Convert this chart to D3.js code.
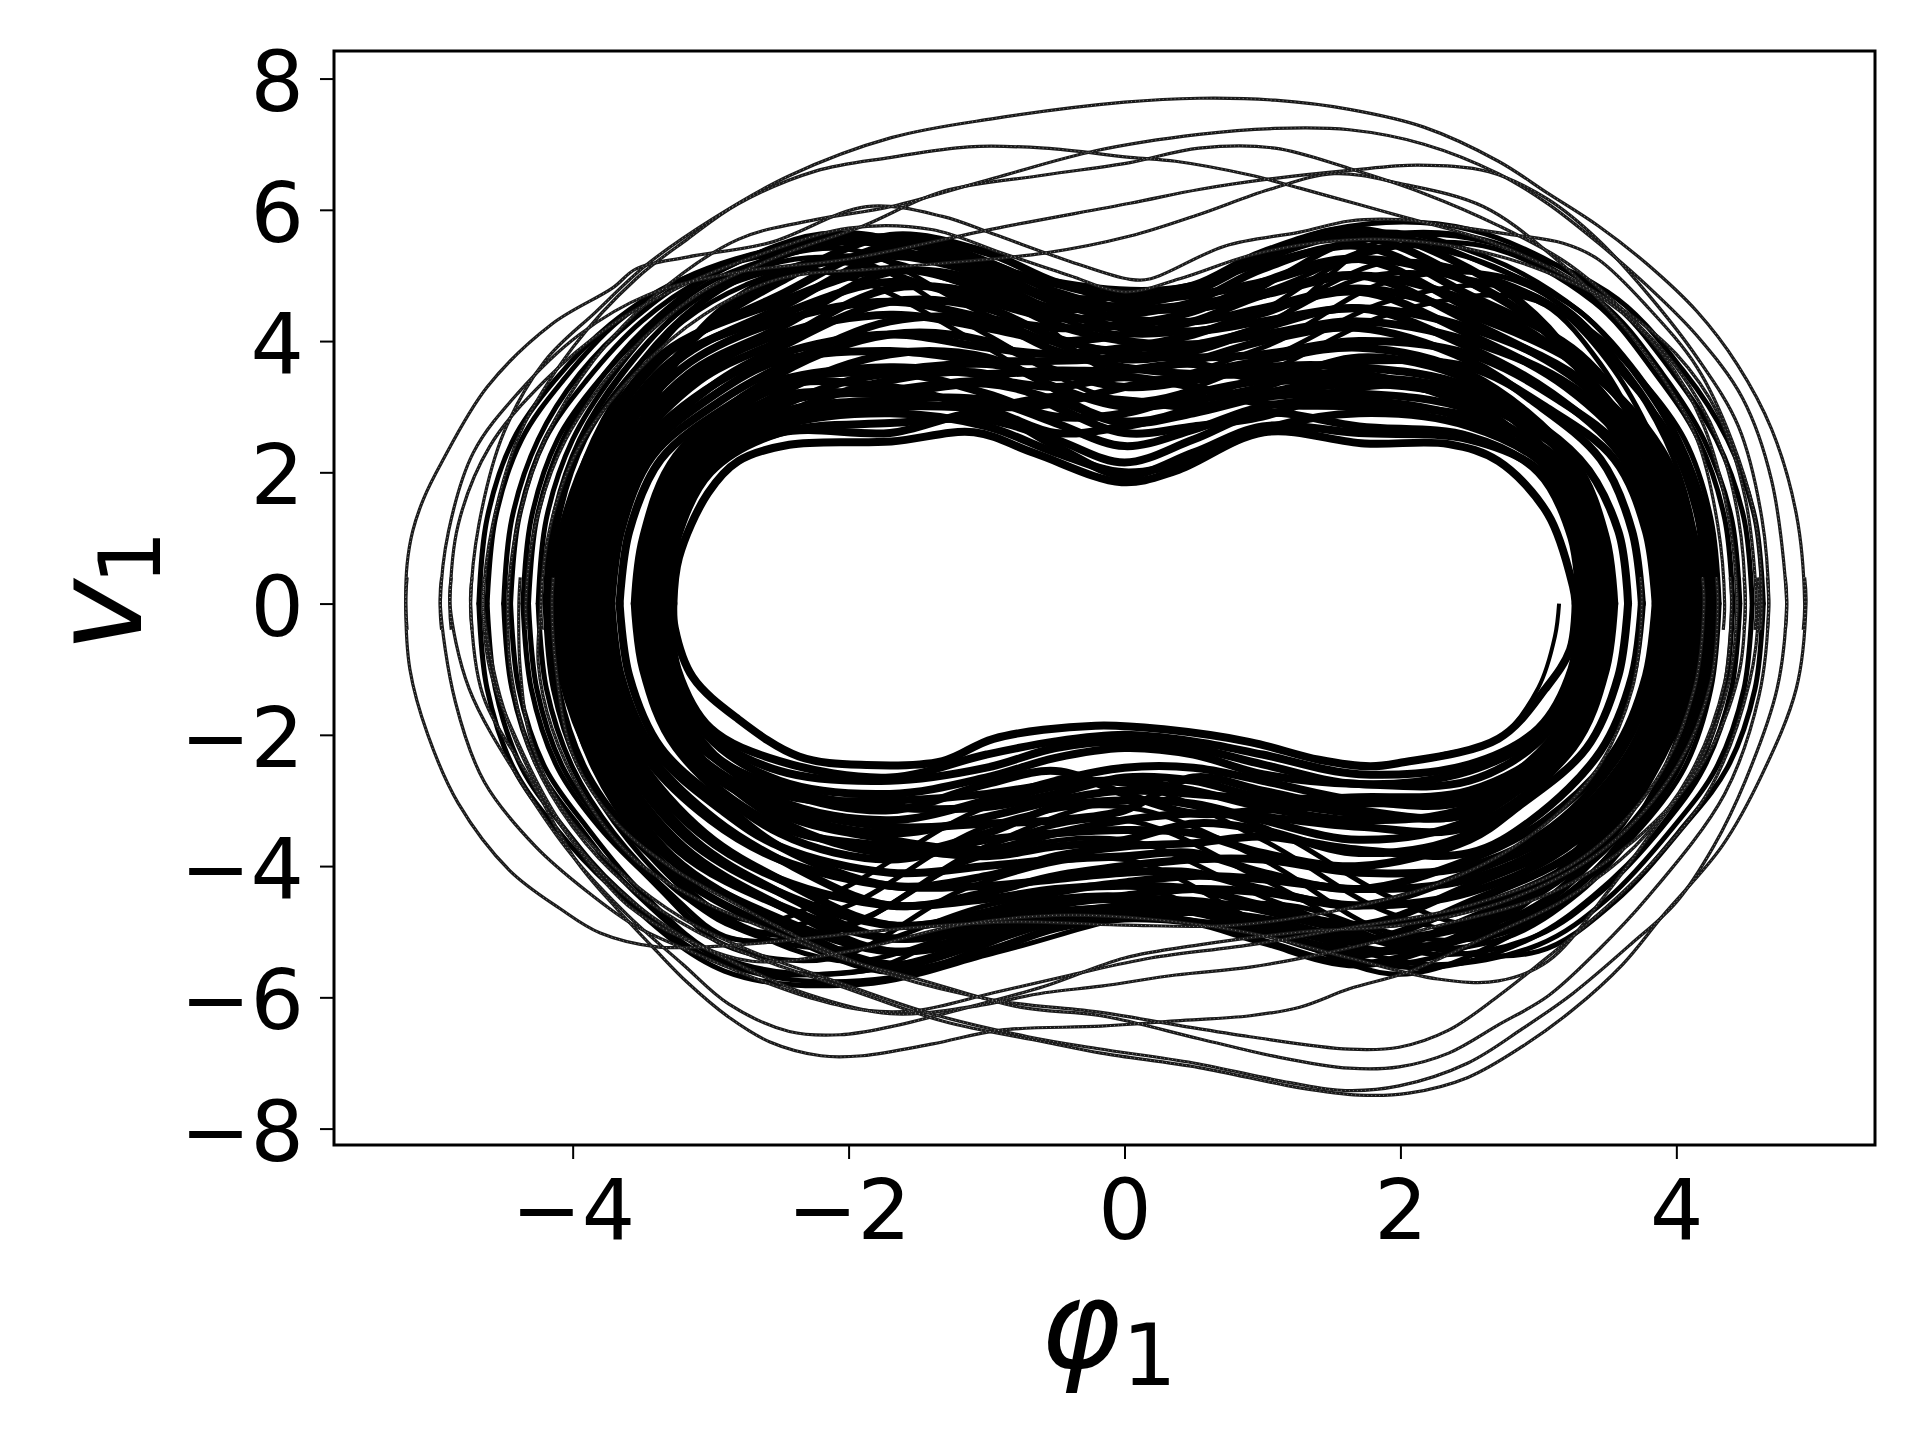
<!DOCTYPE html>
<html>
<head>
<meta charset="utf-8">
<script src="https://cdn.jsdelivr.net/npm/d3@7"></script>
<style>
  html, body { margin: 0; background: #fff; }
  text { font-family: "DejaVu Sans", sans-serif; fill: #000; }
</style>
</head>
<body>
<div id="chart"></div>
<script>
// phase portrait: upper arcs run left to right, lower arcs right to left
var xTicks = [-4, -2, 0, 2, 4];
var yTicks = [-8, -6, -4, -2, 0, 2, 4, 6, 8];

var startArc = [[3.15,0],[3.12,-.5],[3,-1.28],[2.71,-2.06],[2.3,-2.3],[1.78,-2.48],[1.41,-2.38],[.91,-2.11],[.3,-1.92],[-.17,-1.85],[-.95,-2.06],[-1.32,-2.4],[-1.87,-2.46],[-2.36,-2.33],[-2.8,-1.76],[-3.13,-1.12],[-3.26,-.37],[-3.27,0]];

var outerUpper = [
  [[-4.73,-.4],[-4.74,0],[-4.68,1.2],[-4.5,2.6],[-4.2,3.7],[-3.83,4.45],[-3.46,5.17],[-2.98,5.87],[-2.43,6.52],[-1.69,7.1],[-.95,7.39],[0,7.64],[.54,7.7],[1.09,7.67],[1.63,7.53],[2.17,7.26],[2.71,6.74],[3.07,6.25],[3.43,5.76],[3.79,5.17],[4.15,4.45],[4.44,3.65],[4.69,2.66],[4.87,1.36],[4.93,0],[4.92,-.4]],
  [[-4.64,-.4],[-4.65,0],[-4.58,1.2],[-4.38,2.6],[-4,3.9],[-3.54,4.95],[-3.17,5.55],[-2.8,6.09],[-2.24,6.59],[-1.69,6.8],[-1.13,6.96],[-.58,6.94],[.04,6.8],[.37,6.74],[.91,6.53],[1.27,6.33],[1.7,6.08],[2.06,5.87],[2.6,5.55],[3.1,5.1],[3.6,4.5],[4,3.8],[4.3,2.9],[4.5,1.6],[4.58,0],[4.57,-.4]],
  [[-4.46,-.4],[-4.47,0],[-4.4,1.2],[-4.2,2.5],[-3.85,3.7],[-3.4,4.7],[-2.8,5.55],[-2.24,5.85],[-1.69,6.05],[-.95,6.48],[-.21,6.9],[.54,7.15],[1.09,7.24],[1.63,7.22],[2.17,7],[2.71,6.55],[3.07,6.09],[3.43,5.5],[3.79,4.84],[4.15,4.08],[4.48,3.13],[4.69,1.88],[4.8,0],[4.79,-.4]],
  [[-4.33,-.4],[-4.34,0],[-4.27,1.2],[-4.05,2.5],[-3.6,3.8],[-3.1,4.7],[-2.5,5.3],[-1.9,5.75],[-1.32,6.28],[-.58,6.53],[.04,6.72],[.54,6.94],[1.09,6.94],[1.63,6.63],[2.17,6.25],[2.71,5.76],[3.2,5.2],[3.6,4.5],[4,3.6],[4.3,2.5],[4.45,1.3],[4.5,0],[4.49,-.4]],
  [[-4.95,-.4],[-4.96,0],[-4.9,1.1],[-4.72,2.3],[-4.4,3.2],[-3.95,4.1],[-3.46,4.7],[-2.8,5.05],[-2,5.25],[-.95,5.71],[.04,6.1],[.54,6.31],[1.09,6.48],[1.63,6.6],[2.13,6.68],[2.64,6.58],[3.07,6.16],[3.43,5.55],[3.8,4.7],[4.15,3.75],[4.45,2.7],[4.62,1.3],[4.67,0],[4.66,-.4]],
  [[-5.2,-.4],[-5.21,0],[-5.2,.6],[-5.16,1.1],[-5.08,1.6],[-4.95,2.15],[-4.62,3.3],[-4.15,4.26],[-3.71,4.81],[-3.54,5.1],[-3.17,5.28],[-2.57,5.5],[-1.87,6.05],[-1.32,5.9],[-.95,5.63],[-.39,5.21],[.04,4.94],[.19,4.95],[.73,5.45],[1.27,5.66],[1.63,5.83],[1.99,5.85],[2.35,5.76],[2.78,5.63],[3.18,5.49],[3.43,5.25],[3.8,4.5],[4.15,3.6],[4.4,2.5],[4.57,1.3],[4.62,0],[4.61,-.4]],
  [[-4.88,-.4],[-4.89,0],[-4.83,1.2],[-4.6,2.4],[-4.2,3.4],[-3.75,4.2],[-3.2,4.85],[-2.6,5.35],[-2,5.72],[-1.4,5.7],[-.9,5.35],[-.4,5],[0,4.75],[.4,4.95],[.9,5.3],[1.4,5.5],[1.9,5.55],[2.5,5.4],[3,5.1],[3.5,4.6],[3.9,3.8],[4.2,2.7],[4.38,1.3],[4.44,0],[4.43,-.4]],
  [[-4.22,-.4],[-4.23,0],[-4.16,1.2],[-3.95,2.4],[-3.55,3.5],[-3.05,4.4],[-2.5,4.95],[-1.8,5.1],[-.58,5.34],[.04,5.6],[.54,5.93],[1.05,6.31],[1.52,6.55],[2,6.4],[2.6,6.05],[3.1,5.3],[3.5,4.5],[3.85,3.6],[4.15,2.5],[4.3,1.2],[4.35,0],[4.34,-.4]]
];

var outerLower = [
  [[4.93,.4],[4.94,0],[4.87,-1.29],[4.62,-2.61],[4.33,-3.7],[3.9,-4.76],[3.61,-5.5],[3.25,-6.19],[2.89,-6.74],[2.49,-7.22],[2.06,-7.46],[1.7,-7.49],[1.27,-7.38],[.54,-7.07],[-.17,-6.85],[-.58,-6.68],[-1.32,-6.36],[-2.06,-5.83],[-2.61,-5.44],[-3.1,-5],[-3.6,-4.3],[-4,-3.4],[-4.3,-2.3],[-4.45,-1],[-4.47,0],[-4.46,.4]],
  [[4.79,.4],[4.8,0],[4.73,-1.3],[4.5,-2.7],[4.27,-3.7],[4,-4.55],[3.67,-5.19],[3.25,-5.94],[2.89,-6.47],[2.49,-7],[1.99,-7.35],[1.6,-7.42],[1.2,-7.3],[.5,-7],[-.2,-6.78],[-.7,-6.6],[-1.4,-6.25],[-2.1,-5.75],[-2.7,-5.3],[-3.2,-4.8],[-3.65,-4.1],[-4.05,-3.2],[-4.3,-2.1],[-4.38,-1],[-4.39,0],[-4.38,.4]],
  [[4.66,.4],[4.67,0],[4.6,-1.4],[4.35,-2.9],[3.79,-4.48],[3.43,-5.29],[3.07,-5.98],[2.71,-6.42],[2.35,-6.85],[1.99,-7.06],[1.63,-7.08],[1.09,-6.9],[.54,-6.63],[-.17,-6.28],[-.76,-6.15],[-1.5,-5.72],[-2.06,-5.4],[-2.6,-4.95],[-3.1,-4.5],[-3.55,-3.9],[-3.9,-3],[-4.15,-1.9],[-4.25,-.9],[-4.23,0],[-4.22,.4]],
  [[4.59,.4],[4.6,0],[4.53,-1.2],[4.25,-2.8],[3.8,-4],[3.4,-4.8],[3,-5.5],[2.71,-5.98],[2.35,-6.5],[1.99,-6.76],[1.63,-6.79],[.91,-6.6],[.37,-6.42],[-.17,-6.23],[-.95,-6.04],[-1.69,-5.66],[-2.3,-5.15],[-2.8,-4.6],[-3.3,-4],[-3.7,-3.3],[-4,-2.3],[-4.12,-1],[-4.15,0],[-4.14,.4]],
  [[4.39,.4],[4.4,0],[4.35,-1.2],[4.1,-2.6],[3.7,-3.7],[3.2,-4.5],[2.6,-5.1],[2.06,-5.61],[1.63,-5.87],[1.27,-6.15],[.91,-6.28],[.37,-6.36],[-.17,-6.44],[-.9,-6.5],[-1.39,-6.71],[-1.9,-6.89],[-2.2,-6.89],[-2.57,-6.68],[-2.87,-6.3],[-3.17,-5.77],[-3.39,-5.3],[-3.68,-4.65],[-3.98,-3.9],[-4.3,-2.7],[-4.65,-1.4],[-4.74,0],[-4.73,.4]],
  [[3.74,.4],[3.75,0],[3.68,-1.3],[3.4,-2.6],[2.9,-3.6],[2.3,-4.25],[1.6,-4.65],[.8,-4.9],[0,-4.9],[-.8,-4.85],[-1.6,-4.95],[-2.3,-5.1],[-2.8,-5.2],[-3.39,-5.23],[-3.8,-5.02],[-4.09,-4.65],[-4.46,-4.06],[-4.83,-3.04],[-5.05,-2],[-5.18,-1],[-5.21,0],[-5.2,.4]],
  [[4.19,.4],[4.2,0],[4.13,-1.3],[3.85,-2.7],[3.3,-3.9],[2.5,-4.6],[1.6,-4.95],[.91,-5.2],[.19,-5.4],[-.39,-5.66],[-.95,-5.93],[-1.5,-6.2],[-1.87,-6.2],[-2.24,-6.03],[-2.69,-5.7],[-3.1,-5.34],[-3.54,-4.92],[-3.9,-4.38],[-4.27,-3.7],[-4.64,-2.72],[-4.85,-1.5],[-4.96,0],[-4.95,.4]],
  [[4.29,.4],[4.3,0],[4.25,-1.2],[4,-2.5],[3.5,-3.7],[2.8,-4.5],[2,-4.9],[1.3,-5],[.54,-5.2],[0,-5.4],[-.58,-5.83],[-1.13,-6.15],[-1.7,-6.45],[-2.06,-6.57],[-2.43,-6.52],[-2.87,-6.1],[-3.2,-5.5],[-3.6,-4.75],[-4,-3.85],[-4.35,-2.8],[-4.75,-1.3],[-4.89,0],[-4.88,.4]],
  [[4.43,.4],[4.44,0],[4.38,-1.2],[4.15,-2.5],[3.85,-3.4],[3.5,-4.4],[3.07,-5.45],[2.71,-5.75],[2.27,-5.72],[1.63,-5.4],[.91,-5.02],[.19,-4.81],[-.5,-4.75],[-1.2,-4.9],[-2,-5.3],[-2.7,-5.45],[-3.2,-5.1],[-3.6,-4.6],[-3.9,-3.9],[-4.2,-3],[-4.5,-1.6],[-4.65,0],[-4.64,.4]],
  [[4.49,.4],[4.5,0],[4.45,-1.1],[4.2,-2.4],[3.7,-3.6],[3.1,-4.4],[2.2,-4.95],[1.45,-5.33],[.91,-5.54],[.37,-5.66],[-.17,-5.83],[-.58,-5.93],[-1.13,-6.15],[-1.7,-6.25],[-2.3,-5.95],[-2.8,-5.5],[-3.3,-4.95],[-3.75,-4.2],[-4.1,-3.3],[-4.4,-2.1],[-4.6,-1],[-4.65,0],[-4.64,.4]]
];

var shoulderUpper = [
  [[-4.2,0],[-4.14,1.3],[-3.95,2.5],[-3.65,3.5],[-3.25,4.4],[-2.8,5],[-2,5.5],[-1,5],[0,4.45],[1,4.75],[1.9,5.45],[2.6,5.2],[3.25,4.4],[3.65,3.5],[3.95,2.5],[4.15,1.3],[4.21,0]],
  [[-4.16,0],[-4.1,1.3],[-3.91,2.5],[-3.62,3.4],[-3.2,4.3],[-2.75,4.85],[-2,5.3],[-1,4.75],[0,4.1],[1,4.4],[1.9,5.2],[2.6,5],[3.2,4.4],[3.65,3.4],[3.97,2.5],[4.16,1.3],[4.22,0]],
  [[-4.32,0],[-4.26,1.3],[-4.07,2.5],[-3.77,3.5],[-3.37,4.4],[-2.9,5.1],[-2.1,5.65],[-1.2,5.1],[-.3,4.55],[.8,4.7],[1.8,5.65],[2.6,5.3],[3.3,4.45],[3.72,3.5],[4.02,2.5],[4.22,1.3],[4.28,0]],
  [[-4.36,0],[-4.3,1.3],[-4.11,2.5],[-3.81,3.4],[-3.41,4.25],[-2.95,4.8],[-2.1,5.2],[-1.1,4.6],[-.2,3.9],[.8,4.1],[1.8,5],[2.6,4.9],[3.35,4.2],[3.75,3.4],[4.06,2.5],[4.25,1.3],[4.31,0]],
  [[-4.45,0],[-4.39,1.3],[-4.2,2.5],[-3.9,3.4],[-3.5,4.3],[-3.05,4.95],[-2.2,5.6],[-1.3,5.3],[-.4,4.5],[.7,4.2],[1.7,5.3],[2.6,5.45],[3.4,4.6],[3.85,3.5],[4.16,2.5],[4.35,1.3],[4.41,0]],
  [[-4.5,0],[-4.44,1.3],[-4.25,2.5],[-3.95,3.5],[-3.55,4.35],[-3.1,5],[-2.3,5.5],[-1.4,5.5],[-.5,4.85],[.6,4.5],[1.7,5.55],[2.6,5.55],[3.45,4.6],[3.9,3.5],[4.2,2.5],[4.4,1.3],[4.46,0]],
  [[-4.62,0],[-4.56,1.3],[-4.37,2.5],[-4.07,3.4],[-3.67,4.3],[-3.2,4.95],[-2.4,5.45],[-1.5,5.45],[-.6,4.9],[.4,4.75],[1.5,5.7],[2.5,5.7],[3.5,4.65],[3.98,3.5],[4.29,2.5],[4.49,1.3],[4.55,0]],
  [[-4.68,0],[-4.62,1.3],[-4.43,2.5],[-4.13,3.4],[-3.73,4.25],[-3.25,4.9],[-2.5,5.35],[-1.6,5.6],[-.7,5],[.3,4.8],[1.4,5.4],[2.4,5.6],[3.5,4.75],[4.05,3.55],[4.37,2.5],[4.57,1.3],[4.63,0]],
  [[-4.25,0],[-4.19,1.3],[-4,2.5],[-3.7,3.5],[-3.3,4.45],[-2.85,5.05],[-2,5.4],[-1,4.4],[0,3.7],[1,4.2],[1.9,5.55],[2.7,5.1],[3.3,4.45],[3.7,3.5],[4,2.5],[4.19,1.3],[4.25,0]],
  [[-4.19,0],[-4.13,1.3],[-3.94,2.5],[-3.6,3.6],[-3.2,4.5],[-2.7,5.15],[-2,5.65],[-1,4.95],[0,3.45],[1,3.9],[1.9,4.9],[2.7,5],[3.2,4.5],[3.6,3.6],[3.92,2.5],[4.11,1.3],[4.17,0]],
  [[-4.1,0],[-4.04,1.3],[-3.85,2.5],[-3.5,3.7],[-3.1,4.55],[-2.6,5.15],[-1.9,5.2],[-1,4.1],[0,3.1],[1,3.7],[1.9,4.6],[2.7,4.85],[3.1,4.55],[3.5,3.7],[3.83,2.5],[4.02,1.3],[4.08,0]],
  [[-4.03,0],[-3.97,1.3],[-3.78,2.5],[-3.45,3.7],[-3.05,4.6],[-2.55,5.1],[-1.9,4.9],[-1,3.9],[0,2.8],[1,3.5],[1.9,4.4],[2.7,4.7],[3.05,4.55],[3.45,3.65],[3.75,2.5],[3.94,1.3],[4,0]]
];

var shoulderLower = [
  [[4.21,0],[4.15,-1.3],[3.95,-2.5],[3.65,-3.4],[3.25,-4.2],[2.8,-4.85],[2,-5.3],[1,-4.8],[0,-4.6],[-1,-4.9],[-2,-5.45],[-2.8,-4.9],[-3.25,-4.2],[-3.65,-3.4],[-3.95,-2.5],[-4.14,-1.3],[-4.2,0]],
  [[4.22,0],[4.16,-1.3],[3.97,-2.5],[3.65,-3.5],[3.25,-4.35],[2.75,-5],[1.9,-5.5],[1,-5],[0,-4.3],[-1,-4.6],[-2,-5.25],[-2.75,-5],[-3.2,-4.35],[-3.62,-3.4],[-3.91,-2.5],[-4.1,-1.3],[-4.16,0]],
  [[4.28,0],[4.22,-1.3],[4.02,-2.5],[3.72,-3.4],[3.3,-4.3],[2.85,-5],[2,-5.65],[1.1,-5],[0,-3.9],[-1.1,-4.3],[-2.1,-5.4],[-2.9,-5.2],[-3.37,-4.35],[-3.77,-3.4],[-4.07,-2.5],[-4.26,-1.3],[-4.32,0]],
  [[4.31,0],[4.25,-1.3],[4.06,-2.5],[3.75,-3.4],[3.35,-4.2],[2.9,-4.8],[2.1,-5.2],[1.1,-4.55],[0,-3.6],[-1.1,-3.9],[-2.1,-5],[-2.95,-5.05],[-3.41,-4.25],[-3.81,-3.4],[-4.11,-2.5],[-4.3,-1.3],[-4.36,0]],
  [[4.41,0],[4.35,-1.3],[4.16,-2.5],[3.85,-3.5],[3.4,-4.45],[2.95,-5.1],[2.2,-5.55],[1.3,-5.2],[.3,-4.5],[-.8,-4.6],[-1.9,-5.6],[-2.9,-5.4],[-3.5,-4.4],[-3.9,-3.4],[-4.2,-2.5],[-4.39,-1.3],[-4.45,0]],
  [[4.46,0],[4.4,-1.3],[4.2,-2.5],[3.9,-3.4],[3.45,-4.4],[3,-5.05],[2.3,-5.35],[1.4,-4.9],[.4,-4.5],[-.6,-4.9],[-1.7,-5.7],[-2.8,-5.55],[-3.55,-4.4],[-3.95,-3.4],[-4.25,-2.5],[-4.44,-1.3],[-4.5,0]],
  [[4.55,0],[4.49,-1.3],[4.29,-2.5],[3.98,-3.4],[3.5,-4.5],[3,-5.2],[2.2,-5.5],[1.2,-5],[.2,-4.6],[-.8,-5],[-1.9,-5.6],[-2.9,-5.5],[-3.67,-4.35],[-4.07,-3.4],[-4.37,-2.5],[-4.56,-1.3],[-4.62,0]],
  [[4.63,0],[4.57,-1.3],[4.37,-2.5],[4.05,-3.4],[3.55,-4.55],[3,-5.3],[2.2,-5.25],[1.2,-4.6],[.2,-4.7],[-.9,-5.3],[-1.9,-5.8],[-2.9,-5.6],[-3.73,-4.3],[-4.13,-3.4],[-4.43,-2.5],[-4.62,-1.3],[-4.68,0]],
  [[4.25,0],[4.19,-1.3],[4,-2.5],[3.7,-3.5],[3.3,-4.4],[2.75,-5.1],[2,-5.2],[1,-4.2],[0,-3.3],[-1,-3.7],[-2,-4.9],[-2.85,-5.1],[-3.3,-4.4],[-3.7,-3.5],[-4,-2.5],[-4.19,-1.3],[-4.25,0]],
  [[4.17,0],[4.11,-1.3],[3.92,-2.5],[3.6,-3.6],[3.2,-4.45],[2.7,-5.05],[1.9,-5],[1,-3.9],[0,-3.1],[-1,-3.4],[-2,-4.6],[-2.7,-5],[-3.2,-4.45],[-3.6,-3.6],[-3.94,-2.5],[-4.13,-1.3],[-4.19,0]],
  [[4.08,0],[4.02,-1.3],[3.83,-2.5],[3.5,-3.65],[3.1,-4.5],[2.6,-5],[1.9,-4.7],[1,-3.6],[0,-2.75],[-1,-3.1],[-2,-4.3],[-2.6,-4.85],[-3.1,-4.5],[-3.5,-3.65],[-3.85,-2.5],[-4.04,-1.3],[-4.1,0]],
  [[4,0],[3.94,-1.3],[3.75,-2.5],[3.45,-3.65],[3.05,-4.5],[2.55,-4.9],[1.9,-4.45],[1,-3.4],[0,-3],[-1,-3.7],[-1.9,-4.8],[-2.55,-5.05],[-3.05,-4.55],[-3.45,-3.7],[-3.78,-2.5],[-3.97,-1.3],[-4.03,0]]
];

var denseUpper = [
  [[-3.27,0],[-3.23,.7],[-3.02,1.68],[-2.8,2.17],[-2.43,2.42],[-1.69,2.47],[-1.09,2.61],[-.65,2.29],[-.02,1.85],[.37,2.02],[1.01,2.61],[1.74,2.44],[2.35,2.43],[2.71,2.17],[3.07,1.36],[3.25,.27],[3.27,0]],
  [[-3.3,0],[-3.24,1],[-3,2],[-2.5,2.6],[-1.7,2.75],[-1,2.8],[-.5,2.5],[0,2.15],[.5,2.5],[1,2.9],[1.7,2.7],[2.5,2.55],[3,2],[3.24,1],[3.3,0]],
  [[-3.33,0],[-3.27,1],[-3.03,2.1],[-2.5,2.9],[-1.7,3.1],[-1,3.1],[-.5,2.75],[0,2.4],[.5,2.65],[1,3],[1.7,3.1],[2.5,2.8],[3.05,2.1],[3.29,1],[3.35,0]],
  [[-3.36,0],[-3.3,1],[-3.06,2.1],[-2.5,2.85],[-1.7,3.4],[-1,3.5],[-.5,3],[0,2.6],[.5,2.7],[1,2.85],[1.7,3.3],[2.5,3.2],[3.1,2.2],[3.34,1],[3.4,0]],
  [[-3.4,0],[-3.34,1],[-3.1,2.15],[-2.5,3],[-1.7,3.5],[-1,3.2],[-.5,2.85],[0,2.9],[.5,3.2],[1,3.4],[1.7,3.5],[2.5,3],[3.15,2.1],[3.39,1],[3.45,0]],
  [[-3.45,0],[-3.39,1],[-3.15,2.2],[-2.5,3.2],[-1.7,3.8],[-1,3.75],[-.5,3.3],[0,3],[.5,3.1],[1,3.3],[1.7,3.75],[2.5,3.4],[3.2,2.2],[3.44,1],[3.5,0]],
  [[-3.5,0],[-3.44,1],[-3.2,2.2],[-2.5,3.3],[-1.7,3.3],[-1,3],[-.5,3.05],[0,3.3],[.5,3.5],[1,3.7],[1.7,3.9],[2.5,3.5],[3.25,2.2],[3.49,1],[3.55,0]],
  [[-3.55,0],[-3.49,1],[-3.25,2.25],[-2.5,3.5],[-1.7,4.1],[-1,4],[-.5,3.55],[0,3.3],[.5,3.4],[1,3.6],[1.7,3.6],[2.5,3.3],[3.3,2.2],[3.58,1.1],[3.65,0]],
  [[-3.66,0],[-3.59,1.1],[-3.36,2.2],[-2.88,3],[-2.5,3.4],[-1.7,3.6],[-1,3.5],[-.5,3.55],[0,3.55],[.5,3.7],[1,4],[1.7,4.2],[2.5,3.7],[2.95,3.1],[3.45,2.2],[3.68,1.1],[3.75,0]],
  [[-3.72,0],[-3.65,1.1],[-3.42,2.25],[-2.92,3.1],[-2.5,3.6],[-1.7,4.3],[-1,4.3],[-.5,3.85],[0,3.6],[.5,3.5],[1,3.5],[1.7,3.7],[2.5,3.6],[3.05,3],[3.55,2.2],[3.78,1.1],[3.85,0]],
  [[-3.76,0],[-3.69,1.1],[-3.46,2.3],[-2.96,3.2],[-2.5,3.7],[-1.7,3.85],[-1,3.7],[-.5,3.7],[0,3.75],[.5,3.9],[1,4.2],[1.7,4.5],[2.5,3.9],[3.1,3.2],[3.6,2.25],[3.83,1.1],[3.9,0]],
  [[-3.8,0],[-3.73,1.1],[-3.5,2.3],[-3,3.3],[-2.5,3.9],[-1.7,4.6],[-1,4.5],[-.5,4.05],[0,3.8],[.5,3.75],[1,3.8],[1.7,4],[2.5,3.8],[3.15,3.1],[3.65,2.25],[3.88,1.1],[3.95,0]],
  [[-3.84,0],[-3.77,1.1],[-3.54,2.3],[-3.04,3.25],[-2.5,3.8],[-1.7,4.1],[-1,3.9],[-.5,3.8],[0,3.9],[.5,4.1],[1,4.45],[1.7,4.75],[2.5,4.1],[3.2,3.3],[3.7,2.25],[3.93,1.1],[4,0]],
  [[-3.88,0],[-3.81,1.1],[-3.58,2.3],[-3.08,3.4],[-2.5,4],[-1.7,4.8],[-1,4.7],[-.5,4.25],[0,4],[.5,3.95],[1,4.1],[1.7,4.3],[2.5,4],[3.25,3.3],[3.75,2.3],[3.98,1.1],[4.05,0]],
  [[-3.92,0],[-3.85,1.1],[-3.62,2.3],[-3.12,3.45],[-2.5,4.1],[-1.7,4.4],[-1,4.2],[-.5,4],[0,4.1],[.5,4.3],[1,4.7],[1.7,5],[2.5,4.3],[3.28,3.4],[3.78,2.3],[4.01,1.1],[4.08,0]],
  [[-3.96,0],[-3.89,1.1],[-3.66,2.3],[-3.16,3.5],[-2.5,4.2],[-1.7,5.05],[-1,4.9],[-.5,4.45],[0,4.2],[.5,4.15],[1,4.3],[1.7,4.5],[2.5,4.2],[3.32,3.4],[3.82,2.3],[4.05,1.1],[4.12,0]],
  [[-4,0],[-3.93,1.1],[-3.7,2.35],[-3.2,3.6],[-2.5,4.3],[-1.7,4.6],[-1,4.35],[-.5,4.2],[0,4.25],[.5,4.45],[1,4.9],[1.7,5.25],[2.5,4.5],[3.35,3.6],[3.85,2.35],[4.08,1.1],[4.15,0]],
  [[-4.04,0],[-3.97,1.1],[-3.74,2.35],[-3.24,3.7],[-2.5,4.5],[-1.7,5.3],[-1,5.1],[-.5,4.6],[0,4.35],[.5,4.3],[1,4.5],[1.7,4.8],[2.5,4.4],[3.39,3.5],[3.89,2.35],[4.12,1.1],[4.19,0]],
  [[-4.08,0],[-4.01,1.1],[-3.78,2.35],[-3.28,3.7],[-2.5,4.4],[-1.7,4.9],[-1,4.6],[-.5,4.35],[0,4.4],[.5,4.6],[1,5.1],[1.7,5.45],[2.5,4.7],[3.3,3.8],[3.8,2.4],[4.03,1.1],[4.1,0]],
  [[-4.12,0],[-4.05,1.1],[-3.82,2.4],[-3.32,3.8],[-2.5,4.7],[-1.7,5.45],[-1,5.2],[-.5,4.75],[0,4.5],[.5,4.5],[1,4.7],[1.7,5],[2.5,4.6],[3.23,3.7],[3.73,2.4],[3.96,1.1],[4.03,0]],
  [[-4.15,0],[-4.08,1.1],[-3.85,2.4],[-3.35,3.8],[-2.5,4.6],[-1.7,5.1],[-1,4.8],[-.5,4.5],[0,4.55],[.5,4.75],[1,5.25],[1.7,5.6],[2.5,4.9],[3.17,3.95],[3.67,2.4],[3.9,1.1],[3.97,0]],
  [[-3.94,0],[-3.87,1.1],[-3.64,2.5],[-3.14,4],[-2.5,4.9],[-1.7,5.6],[-1,5.35],[-.5,4.9],[0,4.65],[.5,4.7],[1,4.9],[1.7,5.25],[2.5,4.9],[3.12,4],[3.62,2.5],[3.85,1.1],[3.92,0]],
  [[-3.86,0],[-3.79,1.1],[-3.56,2.5],[-3.06,4.2],[-2.5,5],[-1.7,5.3],[-1,5],[-.5,4.65],[0,4.7],[.5,4.85],[1,5.35],[1.7,5.7],[2.5,5.1],[3.07,4.2],[3.57,2.5],[3.8,1.1],[3.87,0]],
  [[-3.32,0],[-3.26,1],[-3.02,2],[-2.5,2.6],[-1.7,2.6],[-1,2.9],[-.5,2.4],[0,1.95],[.5,2.3],[1,2.7],[1.7,2.6],[2.5,2.5],[3.02,2],[3.26,1],[3.32,0]],
  [[-3.37,0],[-3.31,1],[-3.07,2.05],[-2.5,2.7],[-1.7,2.9],[-1,2.7],[-.5,2.3],[0,2],[.5,2.2],[1,2.65],[1.7,2.9],[2.5,2.7],[3.07,2.05],[3.31,1],[3.37,0]],
  [[-3.52,0],[-3.46,1],[-3.22,2.2],[-2.5,3.15],[-1.7,3.2],[-1,3.35],[-.5,3.1],[0,2.75],[.5,2.9],[1,3.15],[1.7,3.35],[2.5,3.1],[3.22,2.2],[3.46,1],[3.52,0]],
  [[-3.42,0],[-3.36,1],[-3.12,2.1],[-2.5,2.75],[-1.7,3],[-1,3],[-.5,3.15],[0,3.1],[.5,3],[1,3.15],[1.7,3.2],[2.5,2.95],[3.12,2.1],[3.36,1],[3.42,0]],
  [[-3.47,0],[-3.41,1],[-3.17,2.15],[-2.5,3.05],[-1.7,3.25],[-1,3.4],[-.5,3.3],[0,3.45],[.5,3.3],[1,3.05],[1.7,3],[2.5,2.85],[3.17,2.15],[3.41,1],[3.47,0]],
  [[-3.38,0],[-3.32,1],[-3.08,2.1],[-2.5,2.8],[-1.7,3],[-1,2.95],[-.5,2.6],[0,2.7],[.5,2.95],[1,3.2],[1.7,3.4],[2.5,3.05],[3.08,2.1],[3.32,1],[3.38,0]],
  [[-3.54,0],[-3.48,1],[-3.24,2.2],[-2.5,3.35],[-1.7,3.55],[-1,3.65],[-.5,3.45],[0,3.55],[.5,3.65],[1,3.4],[1.7,3.45],[2.5,3.2],[3.24,2.2],[3.48,1],[3.54,0]]
];

var denseLower = [
  [[3.27,0],[3.23,-.7],[3.05,-1.3],[2.71,-2.06],[1.99,-2.43],[1.78,-2.48],[1.41,-2.38],[.91,-2.11],[.3,-1.92],[-.21,-1.86],[-.95,-2.06],[-1.32,-2.4],[-1.87,-2.46],[-2.36,-2.33],[-2.8,-1.76],[-3.13,-1.12],[-3.26,-.37],[-3.27,0]],
  [[3.3,0],[3.24,-1],[3,-1.9],[2.5,-2.45],[1.7,-2.6],[1,-2.3],[.5,-2.1],[0,-2],[-.5,-2.1],[-1,-2.3],[-1.7,-2.65],[-2.5,-2.4],[-3,-1.9],[-3.24,-1],[-3.3,0]],
  [[3.35,0],[3.29,-1],[3.05,-2],[2.5,-2.7],[1.7,-2.75],[1,-2.6],[.5,-2.3],[0,-2.2],[-.5,-2.35],[-1,-2.65],[-1.7,-2.9],[-2.5,-2.7],[-3.03,-2],[-3.27,-1],[-3.33,0]],
  [[3.4,0],[3.34,-1],[3.1,-2.1],[2.5,-3],[1.7,-3],[1,-2.7],[.5,-2.5],[0,-2.5],[-.5,-2.7],[-1,-3],[-1.7,-3.3],[-2.5,-3],[-3.06,-2.1],[-3.3,-1],[-3.36,0]],
  [[3.45,0],[3.39,-1],[3.15,-2.1],[2.5,-3.1],[1.7,-3.3],[1,-3.1],[.5,-2.85],[0,-2.7],[-.5,-2.75],[-1,-2.9],[-1.7,-3],[-2.5,-2.9],[-3.1,-2.1],[-3.34,-1],[-3.4,0]],
  [[3.5,0],[3.44,-1],[3.2,-2.15],[2.5,-3.3],[1.7,-3.6],[1,-3.3],[.5,-3.05],[0,-3],[-.5,-3.1],[-1,-3.5],[-1.7,-3.8],[-2.5,-3.3],[-3.15,-2.15],[-3.39,-1],[-3.45,0]],
  [[3.55,0],[3.49,-1],[3.25,-2.2],[2.5,-3.4],[1.7,-3.4],[1,-3.25],[.5,-3.2],[0,-3.3],[-.5,-3.5],[-1,-3.75],[-1.7,-3.6],[-2.5,-3.2],[-3.2,-2.2],[-3.44,-1],[-3.5,0]],
  [[3.65,0],[3.58,-1.1],[3.35,-2.2],[2.85,-3.1],[2.5,-3.6],[1.7,-4],[1,-3.8],[.5,-3.5],[0,-3.45],[-.5,-3.5],[-1,-3.6],[-1.7,-3.9],[-2.5,-3.5],[-3.25,-2.2],[-3.49,-1],[-3.55,0]],
  [[3.75,0],[3.68,-1.1],[3.45,-2.25],[2.95,-3.3],[2.5,-3.8],[1.7,-3.75],[1,-3.55],[.5,-3.65],[0,-3.7],[-.5,-3.85],[-1,-4.15],[-1.7,-4.3],[-2.5,-3.7],[-2.88,-3.1],[-3.36,-2.2],[-3.59,-1.1],[-3.66,0]],
  [[3.85,0],[3.78,-1.1],[3.55,-2.25],[3.05,-3.3],[2.5,-3.9],[1.7,-4.35],[1,-4.1],[.5,-3.8],[0,-3.85],[-.5,-3.9],[-1,-4],[-1.7,-4.1],[-2.5,-3.7],[-2.92,-3.15],[-3.42,-2.2],[-3.65,-1.1],[-3.72,0]],
  [[3.9,0],[3.83,-1.1],[3.6,-2.25],[3.1,-3.4],[2.5,-4],[1.7,-4.1],[1,-3.9],[.5,-3.9],[0,-4],[-.5,-4.15],[-1,-4.4],[-1.7,-4.6],[-2.5,-3.9],[-2.96,-3.3],[-3.46,-2.25],[-3.69,-1.1],[-3.76,0]],
  [[3.95,0],[3.88,-1.1],[3.65,-2.3],[3.15,-3.45],[2.5,-4.1],[1.7,-4.6],[1,-4.35],[.5,-4.1],[0,-4.1],[-.5,-4.2],[-1,-4.3],[-1.7,-4.3],[-2.5,-3.9],[-3,-3.3],[-3.5,-2.25],[-3.73,-1.1],[-3.8,0]],
  [[4,0],[3.93,-1.1],[3.7,-2.3],[3.2,-3.5],[2.5,-4.2],[1.7,-4.35],[1,-4.2],[.5,-4.15],[0,-4.25],[-.5,-4.4],[-1,-4.7],[-1.7,-4.9],[-2.5,-4.2],[-3.04,-3.5],[-3.54,-2.3],[-3.77,-1.1],[-3.84,0]],
  [[4.05,0],[3.98,-1.1],[3.75,-2.3],[3.25,-3.55],[2.5,-4.3],[1.7,-4.9],[1,-4.6],[.5,-4.35],[0,-4.3],[-.5,-4.35],[-1,-4.5],[-1.7,-4.6],[-2.5,-4.2],[-3.08,-3.5],[-3.58,-2.3],[-3.81,-1.1],[-3.88,0]],
  [[4.08,0],[4.01,-1.1],[3.78,-2.3],[3.28,-3.6],[2.5,-4.4],[1.7,-4.6],[1,-4.4],[.5,-4.35],[0,-4.45],[-.5,-4.6],[-1,-4.85],[-1.7,-5.1],[-2.5,-4.4],[-3.12,-3.6],[-3.62,-2.3],[-3.85,-1.1],[-3.92,0]],
  [[4.12,0],[4.05,-1.1],[3.82,-2.3],[3.32,-3.7],[2.5,-4.55],[1.7,-5.15],[1,-4.85],[.5,-4.55],[0,-4.5],[-.5,-4.55],[-1,-4.75],[-1.7,-4.9],[-2.5,-4.4],[-3.16,-3.6],[-3.66,-2.3],[-3.89,-1.1],[-3.96,0]],
  [[4.15,0],[4.08,-1.1],[3.85,-2.35],[3.35,-3.8],[2.5,-4.65],[1.7,-4.9],[1,-4.65],[.5,-4.55],[0,-4.6],[-.5,-4.75],[-1,-5],[-1.7,-5.3],[-2.5,-4.6],[-3.2,-3.7],[-3.7,-2.35],[-3.93,-1.1],[-4,0]],
  [[4.19,0],[4.12,-1.1],[3.89,-2.35],[3.39,-3.85],[2.5,-4.8],[1.7,-5.35],[1,-5],[.5,-4.7],[0,-4.65],[-.5,-4.7],[-1,-4.95],[-1.7,-5.1],[-2.5,-4.6],[-3.24,-3.75],[-3.74,-2.35],[-3.97,-1.1],[-4.04,0]],
  [[4.1,0],[4.03,-1.1],[3.8,-2.4],[3.3,-3.95],[2.5,-4.9],[1.7,-5.1],[1,-4.8],[.5,-4.7],[0,-4.75],[-.5,-4.85],[-1,-5.15],[-1.7,-5.5],[-2.5,-4.85],[-3.28,-3.85],[-3.78,-2.35],[-4.01,-1.1],[-4.08,0]],
  [[4.03,0],[3.96,-1.1],[3.73,-2.4],[3.23,-4],[2.5,-5],[1.7,-5.5],[1,-5.15],[.5,-4.85],[0,-4.75],[-.5,-4.8],[-1,-5.1],[-1.7,-5.3],[-2.5,-4.8],[-3.32,-3.85],[-3.82,-2.4],[-4.05,-1.1],[-4.12,0]],
  [[3.97,0],[3.9,-1.1],[3.67,-2.4],[3.17,-4.05],[2.5,-5.05],[1.7,-5.3],[1,-5],[.5,-4.85],[0,-4.8],[-.5,-4.95],[-1,-5.3],[-1.7,-5.6],[-2.5,-5],[-3.35,-3.95],[-3.85,-2.4],[-4.08,-1.1],[-4.15,0]],
  [[3.32,0],[3.26,-1],[3.02,-1.95],[2.5,-2.55],[1.7,-2.75],[1,-2.45],[.5,-2.2],[0,-2.1],[-.5,-2.2],[-1,-2.5],[-1.7,-2.7],[-2.5,-2.55],[-3.02,-1.95],[-3.26,-1],[-3.32,0]],
  [[3.52,0],[3.46,-1],[3.22,-2.2],[2.5,-3.2],[1.7,-3.2],[1,-3],[.5,-2.9],[0,-2.85],[-.5,-3],[-1,-3.25],[-1.7,-3.5],[-2.5,-3.15],[-3.22,-2.2],[-3.46,-1],[-3.52,0]],
  [[3.42,0],[3.36,-1],[3.12,-2.1],[2.5,-2.85],[1.7,-2.95],[1,-2.95],[.5,-2.7],[0,-2.65],[-.5,-2.9],[-1,-3.1],[-1.7,-3.1],[-2.5,-2.8],[-3.12,-2.1],[-3.36,-1],[-3.42,0]],
  [[3.47,0],[3.41,-1],[3.17,-2.15],[2.5,-3.2],[1.7,-3.15],[1,-2.85],[.5,-2.65],[0,-3.15],[-.5,-3.3],[-1,-3.35],[-1.7,-3.4],[-2.5,-3.05],[-3.17,-2.15],[-3.41,-1],[-3.47,0]],
  [[3.38,0],[3.32,-1],[3.08,-2.1],[2.5,-2.95],[1.7,-3.05],[1,-3.15],[.5,-3.2],[0,-2.9],[-.5,-2.55],[-1,-2.75],[-1.7,-3.15],[-2.5,-2.85],[-3.08,-2.1],[-3.32,-1],[-3.38,0]],
  [[3.54,0],[3.48,-1],[3.24,-2.2],[2.5,-3.5],[1.7,-3.8],[1,-3.45],[.5,-3.35],[0,-3.6],[-.5,-3.7],[-1,-3.85],[-1.7,-3.7],[-2.5,-3.4],[-3.24,-2.2],[-3.48,-1],[-3.54,0]]
];

var width = 1920, height = 1440;
var left = 334, right = 1875, top_ = 51, bottom = 1145;

var svg = d3.select("#chart").append("svg")
  .attr("width", width)
  .attr("height", height);

var x = d3.scaleLinear().domain([-5.73, 5.44]).range([left, right]);
var y = d3.scaleLinear().domain([8.42, -8.25]).range([top_, bottom]);

var line = d3.line()
  .x(function(d) { return x(d[0]); })
  .y(function(d) { return y(d[1]); })
  .curve(d3.curveCatmullRom.alpha(0.5));

// packed part of the orbit, wider stroke so it closes up like the reference
svg.append("g").selectAll("path")
  .data(denseUpper.concat(denseLower))
  .join("path")
  .attr("d", line)
  .attr("fill", "none")
  .attr("stroke", "#000")
  .attr("stroke-linecap", "round")
  .attr("stroke-width", 8);

svg.append("g").selectAll("path")
  .data(shoulderUpper.concat(shoulderLower))
  .join("path")
  .attr("d", line)
  .attr("fill", "none")
  .attr("stroke", "#000")
  .attr("stroke-linecap", "round")
  .attr("stroke-width", 5);

var outerArcs = outerUpper.concat(outerLower);

svg.append("g").selectAll("path")
  .data(outerArcs)
  .join("path")
  .attr("d", line)
  .attr("fill", "none")
  .attr("stroke", "#1a1a1a")
  .attr("stroke-width", 3.2);

// the markers show as small beads along the single lines
svg.append("g").selectAll("path")
  .data(outerArcs)
  .join("path")
  .attr("d", line)
  .attr("fill", "none")
  .attr("stroke", "#fff")
  .attr("stroke-opacity", 0.45)
  .attr("stroke-width", 1)
  .attr("stroke-dasharray", "1 3");

svg.append("path")
  .attr("d", line(startArc))
  .attr("fill", "none")
  .attr("stroke", "#000")
  .attr("stroke-width", 4);

// axes
var xAxis = d3.axisBottom(x).tickValues(xTicks).tickSize(14).tickPadding(20).tickFormat(d3.format("d"));
var yAxis = d3.axisLeft(y).tickValues(yTicks).tickSize(14).tickPadding(16).tickFormat(d3.format("d"));

var gx = svg.append("g").attr("transform", "translate(0," + bottom + ")").call(xAxis);
var gy = svg.append("g").attr("transform", "translate(" + left + ",0)").call(yAxis);

gx.select(".domain").remove();
gy.select(".domain").remove();
gx.selectAll("line").attr("stroke", "#000").attr("stroke-width", 2);
gy.selectAll("line").attr("stroke", "#000").attr("stroke-width", 2);
gx.selectAll("text").style("font-size", "84px").style("font-family", "DejaVu Sans");
gy.selectAll("text").style("font-size", "84px").style("font-family", "DejaVu Sans").attr("dy", "0.375em");

svg.append("rect")
  .attr("x", left)
  .attr("y", top_)
  .attr("width", right - left)
  .attr("height", bottom - top_)
  .attr("fill", "none")
  .attr("stroke", "#000")
  .attr("stroke-width", 3);

// axis titles
svg.append("text")
  .attr("x", 1040)
  .attr("y", 1367)
  .style("font-size", "123px")
  .style("font-style", "italic")
  .text("φ");
svg.append("text")
  .attr("x", 1122)
  .attr("y", 1385)
  .style("font-size", "86px")
  .text("1");

svg.append("text")
  .attr("transform", "translate(141,652) rotate(-90)")
  .style("font-size", "123px")
  .style("font-style", "italic")
  .text("v");
svg.append("text")
  .attr("transform", "translate(160,585) rotate(-90)")
  .style("font-size", "86px")
  .text("1");
</script>
</body>
</html>
